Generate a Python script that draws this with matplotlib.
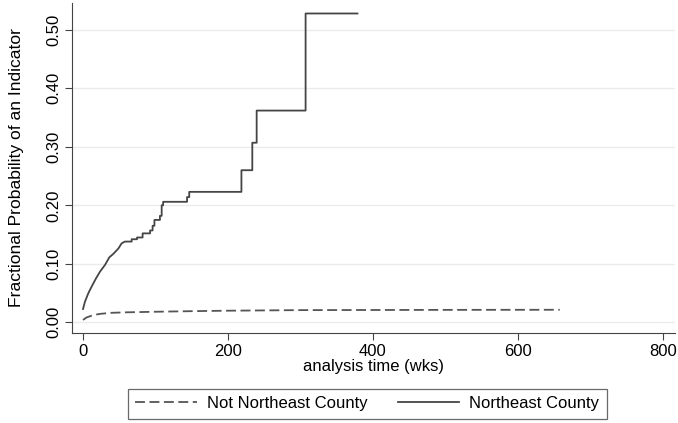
import numpy as np
import matplotlib.pyplot as plt

plt.rcParams['font.family'] = ['Liberation Sans', 'DejaVu Sans']

# Northeast County: smooth early part, then steps
ne_t = [0.5, 3.2, 7.8, 12.4, 18.4, 23.9, 30.8, 36.8, 42.3, 49.2, 53.8, 58.4,
        67.6, 75, 82.7, 93, 96.5, 99, 106.6, 109, 111, 144, 147, 219, 234, 240, 307.5, 379]
ne_v = [0.0227, 0.0352, 0.0496, 0.061, 0.075, 0.0865, 0.098, 0.111, 0.117, 0.126, 0.135, 0.138,
        0.142, 0.145, 0.152, 0.157, 0.165, 0.175, 0.182, 0.200, 0.206, 0.214, 0.223, 0.260,
        0.307, 0.362, 0.528, 0.528]

# Not Northeast County
nn_t = [0.5, 5, 15, 25, 40, 60, 100, 150, 200, 300, 400, 500, 658]
nn_v = [0.004, 0.008, 0.0125, 0.0145, 0.0162, 0.017, 0.018, 0.019, 0.0198, 0.0208, 0.021, 0.0212, 0.0214]

smooth_end = 60


def step_path(t, v, t0):
    xs, ys = [], []
    for i in range(len(t)):
        if t[i] > t0 and i > 0:
            xs.append(t[i])
            ys.append(v[i - 1])
        xs.append(t[i])
        ys.append(v[i])
    return xs, ys


fig = plt.figure(figsize=(6.78, 4.23), dpi=100)
ax = fig.add_axes([0.1066, 0.2135, 0.889, 0.7795])

nx, ny = step_path(ne_t, ne_v, smooth_end)
ax.plot(nn_t, nn_v, color='#555555', lw=1.3, dashes=(5.5, 2.5), label='Not Northeast County')
ax.plot(nx, ny, color='#454545', lw=1.3, label='Northeast County')

ax.set_xlim(-14.3, 817)
ax.set_ylim(-0.0178, 0.546)
ax.set_xticks([0, 200, 400, 600, 800])
ax.set_yticks([0, 0.1, 0.2, 0.3, 0.4, 0.5])
ax.set_yticklabels(['%.2f' % y for y in [0, 0.1, 0.2, 0.3, 0.4, 0.5]],
                   rotation=90, va='center')
ax.grid(axis='y', color='#ebebeb', lw=1)
ax.set_axisbelow(True)
for s in ['top', 'right']:
    ax.spines[s].set_visible(False)
for s in ['left', 'bottom']:
    ax.spines[s].set_color('#444444')
ax.tick_params(colors='#444444', labelcolor='black', labelsize=12, length=5,
               direction='out', pad=3)
ax.set_xlabel('analysis time (wks)', fontsize=12, labelpad=0)
ax.set_ylabel('Fractional Probability of an Indicator', fontsize=12.6, labelpad=16)

leg = fig.legend(loc='center', bbox_to_anchor=(0.542, 0.0456), ncol=2, fontsize=12,
                 frameon=True, fancybox=False, handlelength=3.7, handletextpad=0.6,
                 columnspacing=1.8, borderpad=0.45)
leg.get_frame().set_edgecolor('#444444')
leg.get_frame().set_linewidth(0.9)

fig.savefig('out.png', dpi=100)
